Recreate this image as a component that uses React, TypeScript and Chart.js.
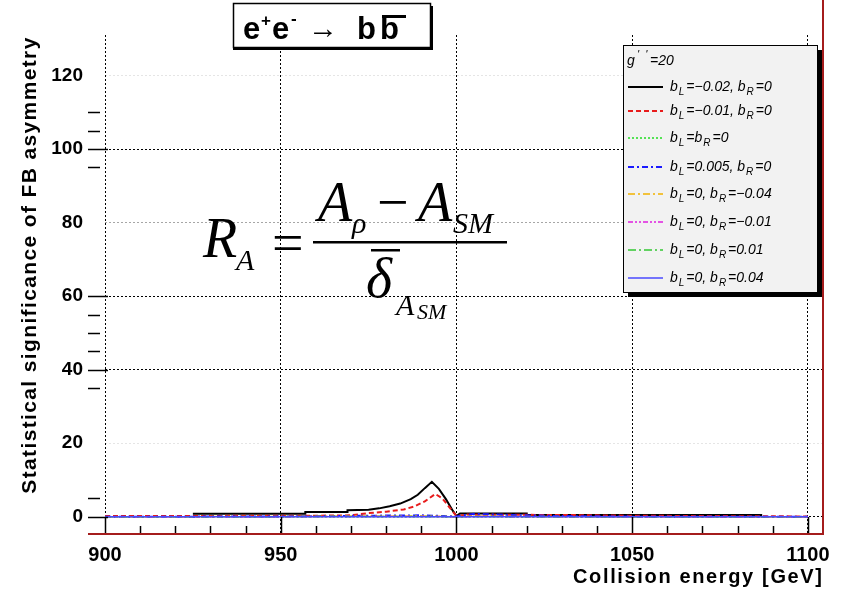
import React, { useEffect, useRef } from 'react';
import { Chart, registerables } from 'chart.js';

Chart.register(...registerables);

// ---------- data ----------
const X_TICKS = [900, 950, 1000, 1050, 1100];
const Y_TICKS = [0, 20, 40, 60, 80, 100, 120];
const X_MIN = 900;
const X_MAX = 1104.3;
const Y_MIN = -4.4;
const Y_MAX = 131;

// black solid: b_L=-0.02, b_R=0
const E_BLACK = [925, 957, 957, 969, 969, 975, 978, 981, 984, 987, 989, 991, 993, 995, 997, 999, 1000, 1001, 1020, 1020, 1087];
const V_BLACK = [0.8, 0.8, 1.3, 1.3, 1.8, 1.9, 2.3, 2.9, 3.6, 4.8, 6.0, 7.8, 9.5, 7.6, 4.8, 1.6, 0.2, 0.9, 0.9, 0.5, 0.5];

// red dashed: b_L=-0.01, b_R=0
const E_RED = [900, 960, 970, 975, 980, 985, 988, 991, 994, 996, 998, 1000, 1003, 1030, 1050, 1100];
const V_RED = [0.2, 0.3, 0.4, 1.0, 1.4, 2.0, 2.8, 4.2, 6.2, 5.0, 2.6, 0.2, 0.6, 0.5, 0.3, 0.1];

// common energy grid for the small curves
const E_GRID = [900, 925, 950, 975, 990, 1000, 1005, 1015, 1030, 1050, 1075, 1100];
const V_GREEN_DOT = [0, 0, 0, 0, 0, 0, 0, 0, 0, 0, 0, 0];
const V_BLUE_DASHDOT = [0, 0.05, 0.1, 0.3, 0.4, 0.1, 0.8, 0.5, 0.2, 0.05, 0, 0];
const V_ORANGE = [0, 0.05, 0.1, 0.15, 0.2, 0.05, 0.15, 0.1, 0.05, 0, 0, 0];
const V_MAGENTA = [0, 0.02, 0.05, 0.08, 0.1, 0.02, 0.08, 0.05, 0.02, 0, 0, 0];
const V_GREEN_DASHDOT = [0, 0.02, 0.05, 0.08, 0.1, 0.02, 0.08, 0.05, 0.02, 0, 0, 0];
const V_BLUE_SOLID = [0, 0, 0, 0, 0.05, 0, 0.05, 0, 0, 0, 0, 0];

const LEGEND_LABELS = [
  'b_L=−0.02, b_R=0',
  'b_L=−0.01, b_R=0',
  'b_L=b_R=0',
  'b_L=0.005, b_R=0',
  'b_L=0, b_R=−0.04',
  'b_L=0, b_R=−0.01',
  'b_L=0, b_R=0.01',
  'b_L=0, b_R=0.04',
];
const COLORS = ['#000000', '#e81c1c', '#22dd22', '#1a1aff', '#f2b300', '#e020e0', '#33c833', '#4a4aff'];
const DASHES: number[][] = [[], [5, 3], [2, 2], [6, 3, 2, 3], [7, 3, 2, 3], [5, 2, 2, 2, 2, 2], [8, 3, 2, 3], []];
const WIDTHS = [2, 2, 1.5, 2, 1.5, 1.5, 1.5, 1.5];

const toPts = (xs: number[], ys: number[]) => xs.map((x, i) => ({ x, y: ys[i] }));

const FONT_SANS = "'Liberation Sans', Arial, Helvetica, sans-serif";
const FONT_SERIF = "'Liberation Serif', 'Times New Roman', serif";

function fitText(ctx: CanvasRenderingContext2D, text: string, target: number) {
  (ctx as any).letterSpacing = '0px';
  const w = ctx.measureText(text).width;
  const sp = (target - w) / Math.max(1, text.length - 1);
  (ctx as any).letterSpacing = sp + 'px';
}

// draw "b_L=..." with subscripts
function drawRich(ctx: CanvasRenderingContext2D, text: string, x: number, y: number, size: number) {
  let cx = x;
  let i = 0;
  while (i < text.length) {
    const ch = text[i];
    if (ch === '_' && i + 1 < text.length) {
      ctx.font = `italic ${Math.round(size * 0.7)}px ${FONT_SANS}`;
      ctx.fillText(text[i + 1], cx + 1, y + size * 0.3);
      cx += ctx.measureText(text[i + 1]).width + 3;
      i += 2;
    } else {
      ctx.font = `italic ${size}px ${FONT_SANS}`;
      ctx.fillText(ch, cx, y);
      cx += ctx.measureText(ch).width;
      i += 1;
    }
  }
}

const decorPlugin = {
  id: 'decor',
  afterDraw(chart: any) {
    const ctx: CanvasRenderingContext2D = chart.ctx;
    const { left, right, top, bottom } = chart.chartArea;
    const xs = chart.scales.x;
    const ys = chart.scales.y;
    ctx.save();

    ctx.strokeStyle = '#000';
    ctx.lineWidth = 1.5;
    ctx.setLineDash([]);
    // x ticks
    for (let v = 900; v <= 1100; v += 10) {
      const px = Math.round(xs.getPixelForValue(v)) + 0.5;
      const major = v % 50 === 0;
      ctx.beginPath();
      ctx.moveTo(px, bottom);
      ctx.lineTo(px, bottom - (major ? 16 : 7));
      ctx.stroke();
    }
    // y ticks (as visible in the reference)
    const yMajor = [0, 40, 60, 100];
    const yMinor = [5, 35, 45, 50, 55, 95, 105, 110];
    yMajor.forEach((v) => {
      const py = Math.round(ys.getPixelForValue(v)) + 0.5;
      ctx.beginPath();
      ctx.moveTo(88, py);
      ctx.lineTo(left + 3, py);
      ctx.stroke();
    });
    yMinor.forEach((v) => {
      const py = Math.round(ys.getPixelForValue(v)) + 0.5;
      ctx.beginPath();
      ctx.moveTo(88, py);
      ctx.lineTo(100, py);
      ctx.stroke();
    });

    // frame (red)
    ctx.strokeStyle = '#a41c1c';
    ctx.lineWidth = 2;
    ctx.beginPath();
    ctx.moveTo(88, bottom + 1);
    ctx.lineTo(right, bottom + 1);
    ctx.lineTo(right, 0);
    ctx.stroke();

    // axis titles
    ctx.fillStyle = '#000';
    ctx.font = `bold 21px ${FONT_SANS}`;
    ctx.save();
    ctx.translate(30, 265);
    ctx.rotate(-Math.PI / 2);
    ctx.textAlign = 'center';
    ctx.textBaseline = 'middle';
    fitText(ctx, 'Statistical significance of FB asymmetry', 456);
    ctx.fillText('Statistical significance of FB asymmetry', 0, 0);
    ctx.restore();
    (ctx as any).letterSpacing = '0px';
    ctx.font = `bold 20px ${FONT_SANS}`;
    ctx.textAlign = 'left';
    ctx.textBaseline = 'alphabetic';
    fitText(ctx, 'Collision energy [GeV]', 249);
    ctx.fillText('Collision energy [GeV]', 573, 583);
    (ctx as any).letterSpacing = '0px';

    // title box
    ctx.fillStyle = '#fff';
    ctx.fillRect(233, 3, 197, 44);
    ctx.fillStyle = '#000';
    ctx.fillRect(233, 47, 200, 3);
    ctx.fillRect(430, 6, 3, 44);
    ctx.strokeStyle = '#000';
    ctx.lineWidth = 1.5;
    ctx.strokeRect(233.5, 3.5, 197, 44);
    ctx.textBaseline = 'alphabetic';
    ctx.font = `bold 31px ${FONT_SANS}`;
    ctx.fillText('e', 243, 39);
    ctx.font = `bold 17px ${FONT_SANS}`;
    ctx.fillText('+', 261, 26);
    ctx.font = `bold 31px ${FONT_SANS}`;
    ctx.fillText('e', 272, 39);
    ctx.font = `bold 17px ${FONT_SANS}`;
    ctx.fillText('-', 291, 24);
    ctx.font = `30px ${FONT_SANS}`;
    ctx.fillText('→', 308, 38);
    ctx.font = `bold 31px ${FONT_SANS}`;
    ctx.fillText('b', 357, 39);
    ctx.fillText('b', 380, 39);
    ctx.fillRect(382, 15, 24, 3);

    // legend
    const lx = 623, ly = 45, lw = 194, lh = 247;
    ctx.fillStyle = '#000';
    ctx.fillRect(lx + 5, ly + lh, lw, 5);
    ctx.fillRect(lx + lw, ly + 5, 5, lh);
    ctx.fillStyle = '#f2f2f2';
    ctx.fillRect(lx, ly, lw, lh);
    ctx.strokeStyle = '#000';
    ctx.lineWidth = 1;
    ctx.strokeRect(lx + 0.5, ly + 0.5, lw, lh);
    ctx.fillStyle = '#000';
    ctx.textAlign = 'left';
    ctx.font = `italic 14px ${FONT_SANS}`;
    ctx.fillText('g', 627, 65);
    ctx.font = `italic 11px ${FONT_SANS}`;
    ctx.fillText("'  '", 637, 58);
    ctx.font = `italic 14px ${FONT_SANS}`;
    ctx.fillText('=20', 650, 65);
    const rowY = [87, 111, 138, 167, 194, 222, 250, 278];
    LEGEND_LABELS.forEach((lab, i) => {
      const y = rowY[i];
      ctx.strokeStyle = COLORS[i];
      ctx.lineWidth = WIDTHS[i];
      ctx.setLineDash(DASHES[i]);
      ctx.beginPath();
      ctx.moveTo(628, y);
      ctx.lineTo(663, y);
      ctx.stroke();
      ctx.setLineDash([]);
      ctx.fillStyle = '#000';
      drawRich(ctx, lab, 670, y + 4, 14);
    });

    // formula
    ctx.fillStyle = '#000';
    ctx.font = `italic 56px ${FONT_SERIF}`;
    ctx.fillText('R', 203, 257);
    ctx.font = `italic 30px ${FONT_SERIF}`;
    ctx.fillText('A', 236, 270);
    ctx.font = `56px ${FONT_SERIF}`;
    ctx.fillText('=', 272, 262);
    ctx.fillRect(313, 241, 194, 2.5);
    ctx.font = `italic 56px ${FONT_SERIF}`;
    ctx.fillText('A', 318, 221);
    ctx.font = `italic 30px ${FONT_SERIF}`;
    ctx.fillText('ρ', 352, 233);
    ctx.font = `56px ${FONT_SERIF}`;
    ctx.fillText('−', 377, 221);
    ctx.font = `italic 56px ${FONT_SERIF}`;
    ctx.fillText('A', 418, 221);
    ctx.font = `italic 30px ${FONT_SERIF}`;
    ctx.fillText('SM', 453, 233);
    ctx.font = `italic 56px ${FONT_SERIF}`;
    ctx.fillText('δ', 366, 297);
    ctx.fillRect(371, 249, 29, 2.5);
    ctx.font = `italic 30px ${FONT_SERIF}`;
    ctx.fillText('A', 396, 315);
    ctx.font = `italic 22px ${FONT_SERIF}`;
    ctx.fillText('SM', 417, 319);

    ctx.restore();
  },
};

export default function App() {
  const ref = useRef<HTMLCanvasElement | null>(null);
  useEffect(() => {
    document.body.style.margin = '0';
    const canvas = ref.current!;
    const datasets = [
      toPts(E_GRID, V_BLUE_SOLID),
      toPts(E_GRID, V_GREEN_DASHDOT),
      toPts(E_GRID, V_MAGENTA),
      toPts(E_GRID, V_ORANGE),
      toPts(E_GRID, V_BLUE_DASHDOT),
      toPts(E_GRID, V_GREEN_DOT),
      toPts(E_RED, V_RED),
      toPts(E_BLACK, V_BLACK),
    ];
    const idx = [7, 6, 5, 4, 3, 2, 1, 0];
    const chart = new Chart(canvas, {
      type: 'line',
      data: {
        datasets: datasets.map((d, k) => ({
          label: LEGEND_LABELS[idx[k]],
          data: d,
          borderColor: COLORS[idx[k]],
          borderWidth: WIDTHS[idx[k]],
          borderDash: DASHES[idx[k]],
          pointRadius: 0,
          fill: false,
          tension: 0,
        })),
      },
      options: {
        animation: false,
        responsive: false,
        devicePixelRatio: 1,
        layout: { padding: { left: 0, right: 24, top: 35, bottom: 0 } },
        plugins: { legend: { display: false }, tooltip: { enabled: false }, title: { display: false } },
        scales: {
          x: {
            type: 'linear',
            min: X_MIN,
            max: X_MAX,
            afterBuildTicks: (s: any) => { s.ticks = X_TICKS.map((v) => ({ value: v })); },
            afterFit: (s: any) => { s.height = 60; },
            border: { display: false, dash: [2, 2] },
            grid: { color: '#000', lineWidth: 1, drawTicks: false },
            ticks: {
              padding: 10,
              color: '#000',
              font: { family: FONT_SANS, size: 20, weight: 'bold' },
              maxRotation: 0,
              autoSkip: false,
              callback: (v: any) => String(v),
            },
          },
          y: {
            type: 'linear',
            min: Y_MIN,
            max: Y_MAX,
            afterBuildTicks: (s: any) => { s.ticks = Y_TICKS.map((v) => ({ value: v })); },
            afterFit: (s: any) => { s.width = 105; },
            border: { display: false, dash: [2, 2] },
            grid: {
              drawTicks: false,
              lineWidth: 1,
              color: (c: any) => {
                const v = c.tick ? c.tick.value : 0;
                if (v === 20 || v === 120) return 'rgba(0,0,0,0.1)';
                if (v === 80) return 'rgba(0,0,0,0.35)';
                return '#000';
              },
            },
            ticks: {
              padding: 22,
              color: '#000',
              font: { family: FONT_SANS, size: 19, weight: 'bold' },
              autoSkip: false,
              callback: (v: any) => String(v),
            },
          },
        },
      },
      plugins: [decorPlugin],
    } as any);
    return () => chart.destroy();
  }, []);
  return (
    <div style={{ width: 847, height: 593, position: 'relative', background: '#fff' }}>
      <canvas ref={ref} width={847} height={593} style={{ width: 847, height: 593, display: 'block' }} />
    </div>
  );
}
